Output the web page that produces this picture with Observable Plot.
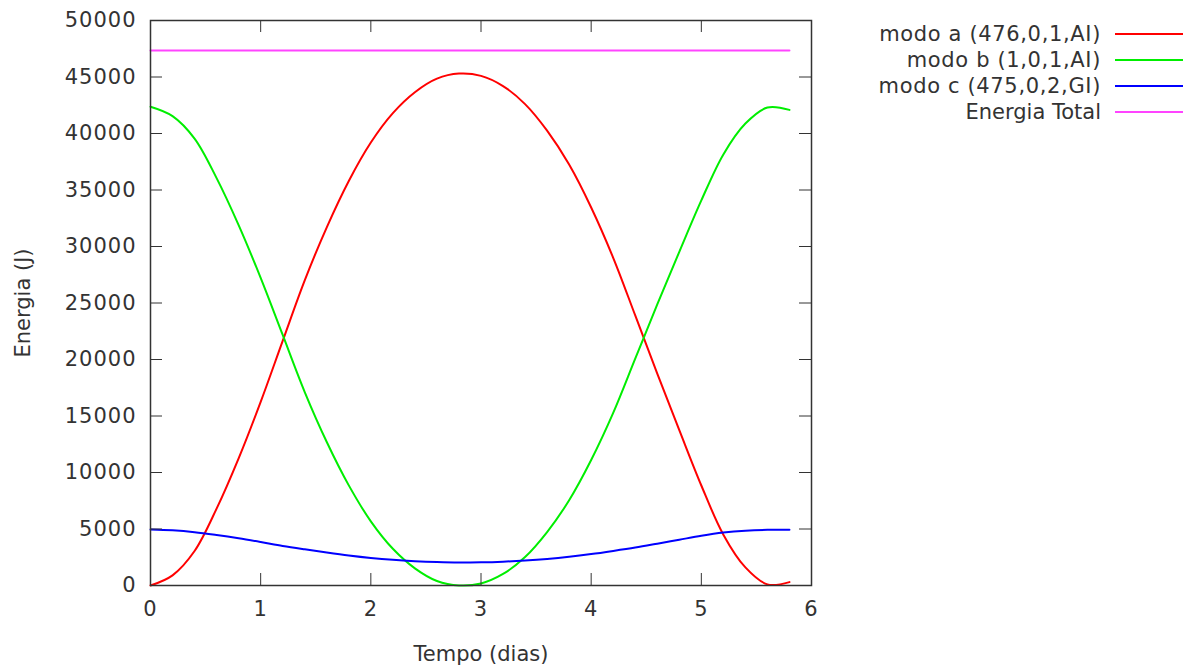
<!DOCTYPE html>
<html><head><meta charset="utf-8">
<script src="https://cdn.jsdelivr.net/npm/d3@7"></script>
<script src="https://cdn.jsdelivr.net/npm/@observablehq/plot@0.6"></script>
<style>
body{margin:0;background:#fff;}
#wrap{position:relative;width:1190px;height:671px;font-family:"DejaVu Sans",sans-serif;}
#wrap svg g[aria-label="y-axis tick label"] text,
#wrap svg g[aria-label="x-axis tick label"] text{letter-spacing:1px;}
.lg-text{position:absolute;right:89px;font-size:21px;color:#333;line-height:26px;white-space:nowrap;text-align:right;}
.lg-line{position:absolute;left:1115px;width:68px;height:2px;}
</style></head><body><div id="wrap"></div>
<script>
// Data
const tempo = [0, 0.2, 0.4, 0.6, 0.8, 1.0, 1.2, 1.4, 1.6, 1.8, 2.0, 2.2, 2.4, 2.6, 2.8, 3.0, 3.2, 3.4, 3.6, 3.8, 4.0, 4.2, 4.4, 4.6, 4.8, 5.0, 5.2, 5.4, 5.6, 5.8];
const modoA = [0, 900, 3050, 6800, 11250, 16250, 21650, 27000, 31700, 35800, 39200, 41800, 43650, 44850, 45300, 45100, 44200, 42600, 40250, 37250, 33450, 29000, 23900, 18750, 13750, 8850, 4500, 1600, 100, 300];
const modoB = [42370, 41540, 39550, 36050, 31890, 27220, 22170, 17120, 12700, 8860, 5680, 3250, 1520, 400, 0, 180, 1020, 2520, 4730, 7540, 11100, 15270, 20070, 24880, 29530, 34080, 38150, 40880, 42300, 42090];
const modoC = [4950, 4880, 4720, 4470, 4180, 3850, 3500, 3200, 2920, 2660, 2440, 2270, 2150, 2070, 2030, 2050, 2110, 2210, 2350, 2540, 2780, 3060, 3360, 3700, 4050, 4400, 4680, 4850, 4930, 4940];
const totalTempo = [0, 5.8];
const energiaTotal = [47350, 47350];
const seriesNames = ["modo a (476,0,1,AI)", "modo b (1,0,1,AI)", "modo c (475,0,2,GI)", "Energia Total"];
const xTicks = [0, 1, 2, 3, 4, 5, 6];
const yTicks = [0, 5000, 10000, 15000, 20000, 25000, 30000, 35000, 40000, 45000, 50000];

// Styles
const seriesColors = ["#ff0000", "#00ee00", "#0000ff", "#ff44ff"];
const legendSpacing = ["0.65px", "0.65px", "0.65px", "0px"];
const W = 1190, H = 671, mL = 150, mR = 379, mT = 20, mB = 86;
const plotW = W - mL - mR, plotH = H - mT - mB, tickLen = 12;
const ink = "#333";

const rows = [];
tempo.forEach((t, i) => {
  rows.push({t, e: modoA[i], s: seriesNames[0]});
  rows.push({t, e: modoB[i], s: seriesNames[1]});
  rows.push({t, e: modoC[i], s: seriesNames[2]});
});
totalTempo.forEach((t, i) => rows.push({t, e: energiaTotal[i], s: seriesNames[3]}));

const chart = Plot.plot({
  width: W, height: H,
  marginLeft: mL, marginRight: mR, marginTop: mT, marginBottom: mB,
  style: {fontFamily: "DejaVu Sans", fontSize: "21px", color: ink, background: "white"},
  x: {domain: [0, 6]},
  y: {domain: [0, 50000]},
  color: {domain: seriesNames, range: seriesColors},
  marks: [
    Plot.line(rows, {x: "t", y: "e", stroke: "s", z: "s", strokeWidth: 2, curve: "catmull-rom"}),
    Plot.tickY(yTicks, {y: d => d, insetRight: plotW - tickLen, stroke: ink}),
    Plot.tickY(yTicks, {y: d => d, insetLeft: plotW - tickLen, stroke: ink}),
    Plot.tickX(xTicks, {x: d => d, insetTop: plotH - tickLen, stroke: ink}),
    Plot.tickX(xTicks, {x: d => d, insetBottom: plotH - tickLen, stroke: ink}),
    Plot.frame({stroke: ink, strokeWidth: 1.5}),
    Plot.axisX({ticks: xTicks, tickSize: 0, tickPadding: 16, tickFormat: d => String(d),
      label: "Tempo (dias)", labelAnchor: "center", labelArrow: "none", labelOffset: 75}),
    Plot.axisY({ticks: yTicks, tickSize: 0, tickPadding: 14, tickFormat: d => String(d),
      label: "Energia (J)", labelAnchor: "center", labelArrow: "none", labelOffset: 135})
  ]
});
const wrap = document.getElementById("wrap");
wrap.appendChild(chart);

const legendY = [34, 60, 86, 112];
seriesNames.forEach((name, i) => {
  const t = document.createElement("div");
  t.className = "lg-text";
  t.style.top = (legendY[i] - 13) + "px";
  t.style.letterSpacing = legendSpacing[i];
  t.textContent = name;
  wrap.appendChild(t);
  const l = document.createElement("div");
  l.className = "lg-line";
  l.style.top = (legendY[i] - 1) + "px";
  l.style.background = seriesColors[i];
  wrap.appendChild(l);
});
</script></body></html>
